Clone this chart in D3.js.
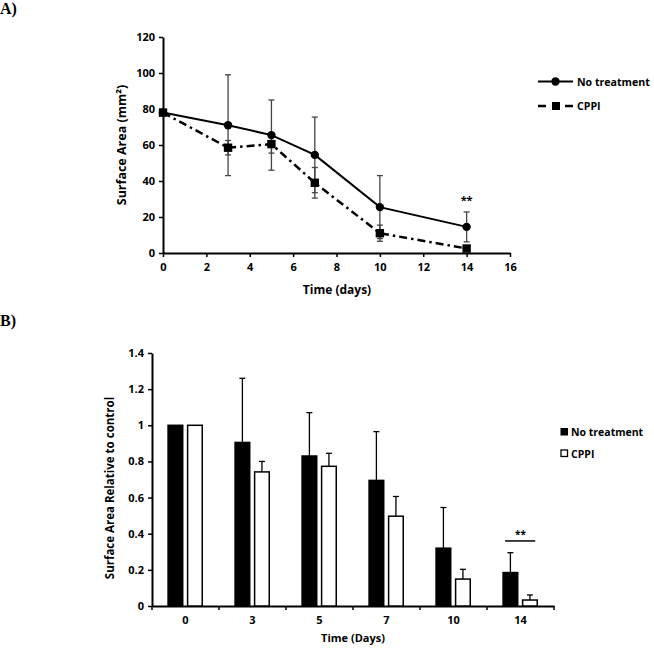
<!DOCTYPE html>
<html>
<head>
<meta charset="utf-8">
<script src="https://cdn.jsdelivr.net/npm/d3@7"></script>
<style>
  body { margin: 0; background: #fff; }
  svg { display: block; }
  .tick text { font-family: "Open Sans", sans-serif; font-weight: 700; font-size: 11px; fill: #000; }
  .ttl { font-family: "Open Sans", sans-serif; font-weight: 700; fill: #000; }
  .panel { font-family: "Liberation Serif", serif; font-weight: 700; font-size: 16px; }
</style>
</head>
<body>
<div id="chart"></div>
<script>
// panel A: surface area over time
const daysA = [0, 3, 5, 7, 10, 14];
const noTreatA = [78, 71, 65.5, 54.5, 25.5, 14.5];
const noTreatErrA = [0, 28, 19.5, 21, 17.5, 8.3];
const cppiA = [78, 58.5, 60.5, 39, 11, 2.5];
const cppiErrA = [0, 4, 5, 8.5, 4.5, 1];
const ticksXA = [0, 2, 4, 6, 8, 10, 12, 14, 16];
const ticksYA = [0, 20, 40, 60, 80, 100, 120];

// panel B: relative to control
const categoriesB = ["0", "3", "5", "7", "10", "14"];
const noTreatB = [1, 0.905, 0.83, 0.695, 0.32, 0.185];
const noTreatErrB = [0, 0.355, 0.24, 0.27, 0.225, 0.11];
const cppiB = [1, 0.742, 0.773, 0.497, 0.149, 0.033];
const cppiErrB = [0, 0.058, 0.072, 0.109, 0.054, 0.028];
const ticksYB = [0, 0.2, 0.4, 0.6, 0.8, 1, 1.2, 1.4];

const svg = d3.select("#chart").append("svg")
  .attr("width", 654)
  .attr("height", 648);

// ---------- A ----------
svg.append("text").attr("class", "panel").attr("x", 0).attr("y", 14).text("A)");

const xA = d3.scaleLinear().domain([0, 16]).range([163, 510]);
const yA = d3.scaleLinear().domain([0, 120]).range([253, 37]);

const axA = svg.append("g");
axA.append("g")
  .attr("transform", "translate(0,253)")
  .call(d3.axisBottom(xA).tickValues(ticksXA).tickSize(4).tickPadding(4).tickSizeOuter(0))
  .call(g => g.selectAll("text").attr("dy", "0.95em"));
axA.append("g")
  .attr("transform", "translate(163,0)")
  .call(d3.axisLeft(yA).tickValues(ticksYA).tickSize(4).tickPadding(4).tickSizeOuter(0));
axA.selectAll(".domain").attr("stroke", "#000").attr("stroke-width", 2);
axA.selectAll(".tick line").attr("stroke", "#000").attr("stroke-width", 1.5);

svg.append("text").attr("class", "ttl")
  .attr("x", 337).attr("y", 294).attr("text-anchor", "middle")
  .style("font-size", "12px").text("Time (days)");
svg.append("text").attr("class", "ttl")
  .attr("transform", "translate(126,145) rotate(-90)")
  .attr("text-anchor", "middle").style("font-size", "12.5px")
  .text("Surface Area (mm²)");

function errorBars(g, vals, errs) {
  const cap = 3;
  daysA.forEach((d, i) => {
    if (!errs[i]) return;
    const x = xA(d), y1 = yA(vals[i] + errs[i]), y2 = yA(Math.max(0, vals[i] - errs[i]));
    g.append("line").attr("x1", x).attr("x2", x).attr("y1", y1).attr("y2", y2);
    g.append("line").attr("x1", x - cap).attr("x2", x + cap).attr("y1", y1).attr("y2", y1);
    g.append("line").attr("x1", x - cap).attr("x2", x + cap).attr("y1", y2).attr("y2", y2);
  });
}
const errG = svg.append("g").attr("stroke", "#444").attr("stroke-width", 1.3);
errorBars(errG, noTreatA, noTreatErrA);
errorBars(errG, cppiA, cppiErrA);

const lineA = vals => d3.line().x((d, i) => xA(daysA[i])).y(d => yA(d))(vals);
svg.append("path").attr("d", lineA(noTreatA))
  .attr("fill", "none").attr("stroke", "#000").attr("stroke-width", 2);
svg.append("path").attr("d", lineA(cppiA))
  .attr("fill", "none").attr("stroke", "#000").attr("stroke-width", 2.5)
  .attr("stroke-dasharray", "8,4,2.5,4");

svg.append("g").selectAll("circle").data(noTreatA).join("circle")
  .attr("cx", (d, i) => xA(daysA[i])).attr("cy", d => yA(d)).attr("r", 4.2).attr("fill", "#000");
svg.append("g").selectAll("rect").data(cppiA).join("rect")
  .attr("x", (d, i) => xA(daysA[i]) - 4.2).attr("y", d => yA(d) - 4.2)
  .attr("width", 8.4).attr("height", 8.4).attr("fill", "#000");

svg.append("text").attr("class", "ttl")
  .attr("x", xA(14)).attr("y", yA(27)).attr("text-anchor", "middle")
  .style("font-size", "11px").text("**");

// legend A
const legA = svg.append("g");
legA.append("line").attr("x1", 538).attr("x2", 573).attr("y1", 81.5).attr("y2", 81.5)
  .attr("stroke", "#000").attr("stroke-width", 2);
legA.append("circle").attr("cx", 555.5).attr("cy", 81.5).attr("r", 4.2);
legA.append("text").attr("class", "ttl").attr("x", 577).attr("y", 85.5)
  .style("font-size", "10.6px").text("No treatment");
legA.append("line").attr("x1", 538).attr("x2", 573).attr("y1", 106).attr("y2", 106)
  .attr("stroke", "#000").attr("stroke-width", 2.5).attr("stroke-dasharray", "8,6,7,6,8");
legA.append("rect").attr("x", 552).attr("y", 102).attr("width", 8).attr("height", 8);
legA.append("text").attr("class", "ttl").attr("x", 577).attr("y", 110)
  .style("font-size", "10.6px").text("CPPI");

// ---------- B ----------
svg.append("text").attr("class", "panel").attr("x", 0).attr("y", 326).text("B)");

const xB = d3.scaleBand().domain(categoriesB).range([152, 554]);
const xInner = d3.scaleBand().domain(["nt", "cppi"])
  .range([0.24 * xB.bandwidth(), 0.75 * xB.bandwidth()]).paddingInner(0.25);
const yB = d3.scaleLinear().domain([0, 1.4]).range([606, 353]);

const axB = svg.append("g");
const xAxB = axB.append("g")
  .attr("transform", "translate(0,606)")
  .call(d3.axisBottom(xB).tickSize(0).tickPadding(10));
// ticks between categories
xAxB.selectAll(".sep").data(d3.range(categoriesB.length + 1)).join("line")
  .attr("class", "sep")
  .attr("x1", i => 152 + i * xB.step()).attr("x2", i => 152 + i * xB.step())
  .attr("y1", 0).attr("y2", 4).attr("stroke", "#000").attr("stroke-width", 1.5);
axB.append("g")
  .attr("transform", "translate(152,0)")
  .call(d3.axisLeft(yB).tickValues(ticksYB).tickSize(4).tickPadding(4).tickSizeOuter(0)
    .tickFormat(d => String(+d.toFixed(1))));
axB.selectAll(".domain").attr("stroke", "#000").attr("stroke-width", 2);
axB.selectAll(".tick line").attr("stroke", "#000").attr("stroke-width", 1.5);

svg.append("text").attr("class", "ttl")
  .attr("x", 353).attr("y", 642).attr("text-anchor", "middle")
  .style("font-size", "11px").text("Time (Days)");
svg.append("text").attr("class", "ttl")
  .attr("transform", "translate(114,488) rotate(-90)")
  .attr("text-anchor", "middle").style("font-size", "11.5px")
  .text("Surface Area Relative to control");

const groupsB = [
  { key: "nt", vals: noTreatB, errs: noTreatErrB, fill: "#000" },
  { key: "cppi", vals: cppiB, errs: cppiErrB, fill: "#fff" }
];
const errB = svg.append("g").attr("stroke", "#000").attr("stroke-width", 1.3);
groupsB.forEach(s => {
  categoriesB.forEach((c, i) => {
    if (!s.errs[i]) return;
    const cx = xB(c) + xInner(s.key) + xInner.bandwidth() / 2;
    const top = yB(s.vals[i] + s.errs[i]);
    errB.append("line").attr("x1", cx).attr("x2", cx).attr("y1", yB(s.vals[i])).attr("y2", top);
    errB.append("line").attr("x1", cx - 3).attr("x2", cx + 3).attr("y1", top).attr("y2", top);
  });
  svg.append("g").selectAll("rect").data(s.vals).join("rect")
    .attr("x", (d, i) => xB(categoriesB[i]) + xInner(s.key))
    .attr("y", d => yB(d))
    .attr("width", xInner.bandwidth())
    .attr("height", d => 606 - yB(d))
    .attr("fill", s.fill).attr("stroke", "#000").attr("stroke-width", 1.5);
});

// significance marker at day 14
svg.append("line")
  .attr("x1", xB("14") + xInner("nt") + 2).attr("x2", xB("14") + xInner("cppi") + xInner.bandwidth() - 2)
  .attr("y1", yB(0.36)).attr("y2", yB(0.36)).attr("stroke", "#000").attr("stroke-width", 1.5);
svg.append("text").attr("class", "ttl")
  .attr("x", xB("14") + xB.bandwidth() / 2).attr("y", yB(0.375)).attr("text-anchor", "middle")
  .style("font-size", "10px").text("**");

// legend B
const legB = svg.append("g");
legB.append("rect").attr("x", 561).attr("y", 428.5).attr("width", 6.5).attr("height", 6.5)
  .attr("fill", "#000").attr("stroke", "#000");
legB.append("text").attr("class", "ttl").attr("x", 571).attr("y", 435.5)
  .style("font-size", "10.5px").text("No treatment");
legB.append("rect").attr("x", 561).attr("y", 450).attr("width", 6.5).attr("height", 6.5)
  .attr("fill", "#fff").attr("stroke", "#000").attr("stroke-width", 1.3);
legB.append("text").attr("class", "ttl").attr("x", 571).attr("y", 457.5)
  .style("font-size", "10.5px").text("CPPI");
</script>
</body>
</html>
